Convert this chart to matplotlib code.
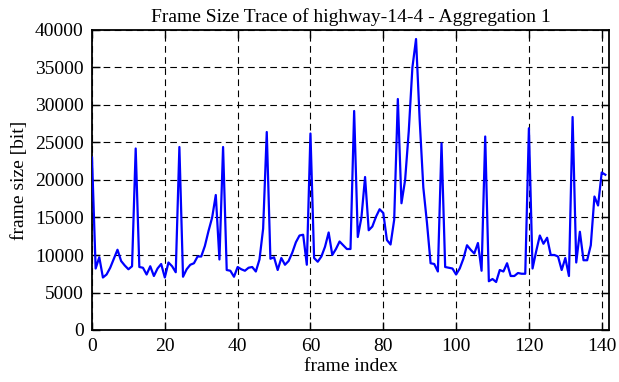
import matplotlib
matplotlib.use("Agg")
import matplotlib.pyplot as plt
import numpy as np

title = "Frame Size Trace of highway-14-4 - Aggregation 1"
xlabel = "frame index"
ylabel = "frame size [bit]"

frame_size = [
    23000, 8200, 9700, 7000, 7400, 8300, 9500, 10700, 9200, 8600,
    8100, 8500, 24200, 8400, 8300, 7400, 8500, 7200, 8200, 8800,
    7000, 9000, 8500, 7700, 24400, 7100, 8100, 8700, 8900, 9800,
    9800, 11200, 13200, 15000, 18000, 9400, 24400, 8000, 7900, 7100,
    8400, 8100, 7900, 8300, 8400, 7800, 9400, 13500, 26400, 9500,
    9700, 8000, 9600, 8700, 9200, 10300, 11700, 12600, 12700, 8700,
    26200, 9600, 9100, 9800, 11100, 13000, 10000, 10800, 11800, 11300,
    10800, 10800, 29200, 12400, 15000, 20400, 13300, 13800, 15100, 16100,
    15600, 12000, 11400, 14700, 30800, 16900, 20000, 26500, 35000, 38800,
    28000, 19000, 14300, 8900, 8800, 7800, 24900, 8400, 8300, 8200,
    7400, 8200, 9500, 11300, 10700, 10200, 11600, 7900, 25800, 6500,
    6800, 6400, 8000, 7800, 8900, 7200, 7200, 7600, 7500, 7500,
    26900, 8200, 10500, 12600, 11500, 12300, 10000, 10000, 9800, 8000,
    9600, 7200, 28400, 9000, 13100, 9300, 9300, 11300, 17800, 16600,
    21000, 20700,
]
frame_index = list(range(len(frame_size)))

xticks = [0, 20, 40, 60, 80, 100, 120, 140]
yticks = [0, 5000, 10000, 15000, 20000, 25000, 30000, 35000, 40000]

plt.rcParams['font.family'] = ['Liberation Serif', 'DejaVu Serif']

fig = plt.figure(figsize=(6.19, 3.82), dpi=100)
ax = fig.add_axes([92/619, 1-330/382, (609-92)/619, 300/382])

ax.plot(frame_index, frame_size, color=(0, 0, 1), lw=1.6, zorder=3)

ax.set_xlim(0, 142)
ax.set_ylim(0, 40000)
ax.set_xticks(xticks)
ax.set_yticks(yticks)
ax.set_xticklabels([str(t) for t in xticks], fontsize=14)
ax.set_yticklabels([str(t) for t in yticks], fontsize=14)
ax.grid(True, color='black', linestyle=(0, (6, 4)), linewidth=0.8)
ax.tick_params(direction='in', length=6, width=1, top=True, right=True, pad=6)
for s in ax.spines.values():
    s.set_linewidth(1.3)
ax.set_title(title, fontsize=14, pad=6)
ax.set_xlabel(xlabel, fontsize=14, labelpad=2)
ax.set_ylabel(ylabel, fontsize=14, labelpad=5)

fig.savefig("out.png", dpi=100)
